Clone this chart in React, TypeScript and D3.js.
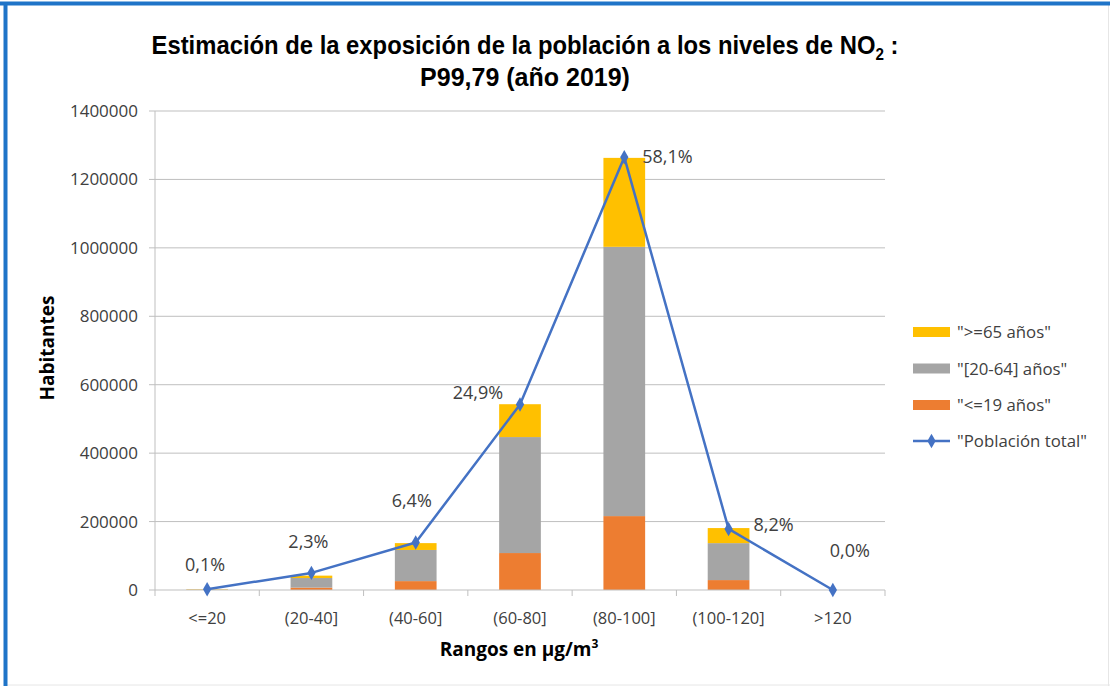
import React from "react";
import * as d3 from "d3";

const categories = ["<=20", "(20-40]", "(40-60]", "(60-80]", "(80-100]", "(100-120]", ">120"];
const menores19 = [500, 7000, 26000, 108000, 216000, 29000, 0];
const adultos2064 = [700, 28000, 91000, 339000, 787000, 108000, 0];
const mayores65 = [1200, 7000, 20000, 96000, 260000, 44000, 0];
const poblacionTotal = [2200, 50000, 139000, 542000, 1265000, 178500, 0];
const pctLabels = ["0,1%", "2,3%", "6,4%", "24,9%", "58,1%", "8,2%", "0,0%"];
const yTicks = [0, 200000, 400000, 600000, 800000, 1000000, 1200000, 1400000];

const seriesNames = ['">=65 años"', '"[20-64] años"', '"<=19 años"', '"Población total"'];
const colors = { young: "#ED7D31", adult: "#A5A5A5", old: "#FFC000", line: "#4472C4" };

// label placement offsets (style, relative to each point)
const labelOffsets = [
  { dx: -2, dy: -18, anchor: "middle" },
  { dx: -3, dy: -25, anchor: "middle" },
  { dx: -4, dy: -35, anchor: "middle" },
  { dx: -42, dy: -6, anchor: "middle" },
  { dx: 18, dy: 6, anchor: "start" },
  { dx: 25, dy: 2, anchor: "start" },
  { dx: 17, dy: -33, anchor: "middle" },
];

const W = 1110;
const H = 686;
const left = 155, right = 885, top = 111, bottom = 590;
const FONT = "'Open Sans', 'Liberation Sans', sans-serif";
const TXT = "#404040";

export default function App() {
  const x = d3.scaleBand<string>().domain(categories).range([left, right]).paddingInner(0).paddingOuter(0);
  const y = d3.scaleLinear().domain([0, 1400000]).range([bottom, top]);
  const bw = x.bandwidth() * 0.4;
  const cx = (c: string) => (x(c) as number) + x.bandwidth() / 2;

  const stackData = categories.map((c, i) => ({ cat: c, young: menores19[i], adult: adultos2064[i], old: mayores65[i] }));
  const stack = d3.stack<any>().keys(["young", "adult", "old"])(stackData);

  const line = d3.line<number>().x((_, i) => cx(categories[i])).y((v) => y(v));
  const diamond = d3.symbol().type(d3.symbolDiamond).size(60)();

  const legendItems = [
    { name: seriesNames[0], color: colors.old },
    { name: seriesNames[1], color: colors.adult },
    { name: seriesNames[2], color: colors.young },
  ];

  return (
    <svg width={W} height={H} style={{ position: "absolute", left: 0, top: 0, background: "#fff" }} fontFamily={FONT}>
      <rect x={0} y={0} width={W} height={H} fill="#fff" />
      {/* frame */}
      <line x1={1108.5} y1={4} x2={1108.5} y2={H} stroke="#e6e6e6" strokeWidth={1} />
      <line x1={4} y1={685} x2={W} y2={685} stroke="#e6e6e6" strokeWidth={1} />
      <line x1={0} y1={3.5} x2={W} y2={3.5} stroke="#1F74C8" strokeWidth={4} />
      <line x1={5.5} y1={2} x2={5.5} y2={H} stroke="#1F74C8" strokeWidth={4} />

      {/* title */}
      <g transform="translate(525,54) scale(0.953,1)">
        <text x={0} y={0} textAnchor="middle" fontWeight="bold" fontSize={25} fill="#000"
          fontFamily="'Liberation Sans', sans-serif">
          Estimación de la exposición de la población a los niveles de NO
          <tspan fontSize={16} dy={6}>2</tspan>
          <tspan dy={-6}> :</tspan>
        </text>
      </g>
      <text x={525} y={86} textAnchor="middle" fontWeight="bold" fontSize={25} fill="#000"
        fontFamily="'Liberation Sans', sans-serif">
        P99,79 (año 2019)
      </text>

      {/* gridlines */}
      {yTicks.map((t) => (
        <g key={t}>
          {t > 0 && <line x1={left} x2={right} y1={y(t)} y2={y(t)} stroke="#BFBFBF" strokeWidth={1} />}
          <line x1={left - 6} x2={left} y1={y(t)} y2={y(t)} stroke="#BFBFBF" strokeWidth={1} />
          <text x={left - 17} y={y(t) + 6} textAnchor="end" fontSize={17} fill={TXT}>{t}</text>
        </g>
      ))}
      <line x1={left} x2={left} y1={top} y2={bottom} stroke="#BFBFBF" strokeWidth={1} />

      {/* bars */}
      {stack.map((s) => (
        <g key={s.key} fill={(colors as any)[s.key]}>
          {s.map((d, i) => (
            <rect key={i} x={cx(categories[i]) - bw / 2} y={y(d[1])} width={bw} height={Math.max(0, y(d[0]) - y(d[1]))} />
          ))}
        </g>
      ))}

      {/* x axis */}
      <line x1={left} x2={right} y1={bottom} y2={bottom} stroke="#BFBFBF" strokeWidth={1} />
      {categories.map((c) => (
        <line key={"t" + c} x1={x(c) as number} x2={x(c) as number} y1={bottom} y2={bottom + 6} stroke="#BFBFBF" />
      ))}
      <line x1={right} x2={right} y1={bottom} y2={bottom + 6} stroke="#BFBFBF" />
      {categories.map((c) => (
        <text key={"l" + c} x={cx(c)} y={624} textAnchor="middle" fontSize={16.5} fill={TXT}>{c}</text>
      ))}

      {/* line */}
      <path d={line(poblacionTotal) as string} fill="none" stroke={colors.line} strokeWidth={2.5} strokeLinejoin="round" />
      {poblacionTotal.map((v, i) => (
        <path key={i} d={diamond as string} transform={`translate(${cx(categories[i])},${y(v)})`} fill={colors.line} />
      ))}

      {/* data labels */}
      {poblacionTotal.map((v, i) => (
        <text key={"p" + i} x={cx(categories[i]) + labelOffsets[i].dx} y={y(v) + labelOffsets[i].dy}
          textAnchor={labelOffsets[i].anchor as any} fontSize={18} fill={TXT}>{pctLabels[i]}</text>
      ))}

      {/* axis titles */}
      <text transform="translate(54,348) rotate(-90)" textAnchor="middle" fontWeight="bold" fontSize={19} fill="#000">Habitantes</text>
      <text x={519} y={656} textAnchor="middle" fontWeight="bold" fontSize={19} fill="#000">
        Rangos en µg/m<tspan fontSize={12} dy={-8}>3</tspan>
      </text>

      {/* legend */}
      {legendItems.map((it, i) => (
        <g key={it.name} transform={`translate(913,${332 + i * 36.5})`}>
          <rect x={0} y={-5} width={37} height={10} fill={it.color} />
          <text x={44} y={6} fontSize={16.8} fill={TXT}>{it.name}</text>
        </g>
      ))}
      <g transform="translate(913,441)">
        <line x1={0} x2={37} y1={0} y2={0} stroke={colors.line} strokeWidth={2.5} />
        <path d={diamond as string} transform="translate(18.5,0)" fill={colors.line} />
        <text x={44} y={6} fontSize={16.8} fill={TXT}>{seriesNames[3]}</text>
      </g>
    </svg>
  );
}
